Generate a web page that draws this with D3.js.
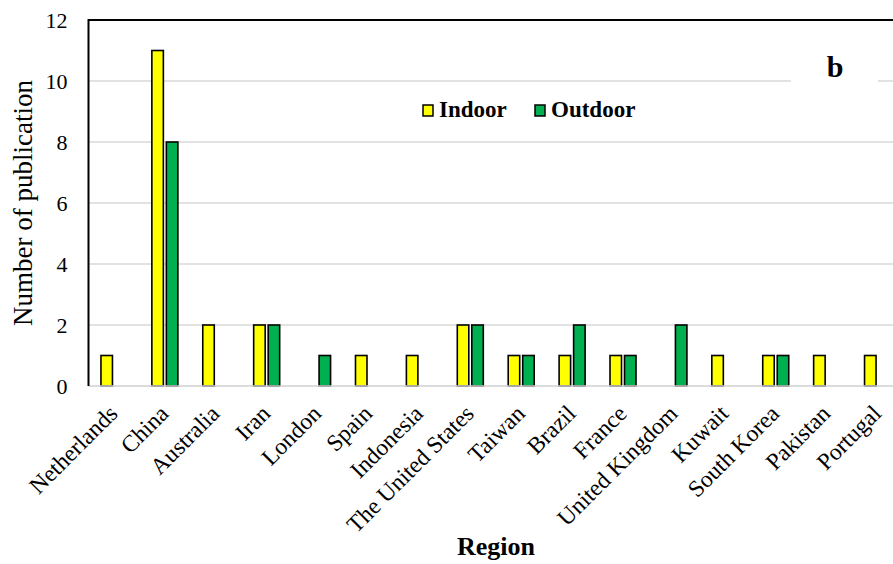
<!DOCTYPE html>
<html><head><meta charset="utf-8">
<script src="https://cdn.jsdelivr.net/npm/d3@7/dist/d3.min.js"></script>
<style>body{margin:0;background:#fff}svg{display:block}</style>
</head><body>
<svg id="c" width="893" height="564"></svg>
<script>
const categories = ["Netherlands","China","Australia","Iran","London","Spain","Indonesia","The United States","Taiwan","Brazil","France","United Kingdom","Kuwait","South Korea","Pakistan","Portugal"];
const indoor  = [1,11,2,2,0,1,1,2,1,1,1,0,1,1,1,1];
const outdoor = [0,8,0,2,1,0,0,2,1,2,1,2,0,1,0,0];
const seriesNames = ["Indoor","Outdoor"];
const seriesColors = ["#ffff00","#00b050"];
const yTicks = [0,2,4,6,8,10,12];

const FONT = '"Liberation Serif","Times New Roman",Times,"DejaVu Serif",serif';
const svg = d3.select("#c");
const x0 = 88.5, x1 = 903, yTop = 20, yBot = 386;
const x = d3.scaleBand().domain(categories).range([x0, x1]);
const y = d3.scaleLinear().domain([0,12]).range([yBot, yTop]);
const barW = 11.5, gap = 3;

// gridlines
svg.append("g").selectAll("line").data(yTicks.filter(t => t>0 && t<12)).join("line")
  .attr("x1", x0).attr("x2", x1).attr("y1", d=>y(d)).attr("y2", d=>y(d))
  .attr("stroke", "#d9d9d9").attr("stroke-width", 1.5);

// label b background (covers gridline)
svg.append("rect").attr("x", 791).attr("y", 55).attr("width", 87).attr("height", 45).attr("fill", "#fff");
svg.append("text").attr("x", 835).attr("y", 77).attr("text-anchor","middle")
  .style("font-family", FONT).style("font-size", "30px").style("font-weight","bold").text("b");

// bars
const data = categories.map((c,i)=>({c, vals:[indoor[i], outdoor[i]]}));
const g = svg.append("g");
data.forEach(d => {
  d.vals.forEach((v,k) => {
    if (v <= 0) return;
    const cx = x(d.c) + x.bandwidth()/2;
    const left = k===0 ? cx - gap/2 - barW : cx + gap/2;
    g.append("rect").attr("x", left).attr("y", y(v)).attr("width", barW).attr("height", y(0)-y(v))
      .attr("fill", seriesColors[k]).attr("stroke", "#000").attr("stroke-width", 1.6);
  });
});

// axes lines
svg.append("line").attr("x1", x0).attr("x2", x1).attr("y1", yBot).attr("y2", yBot).attr("stroke","#d0d0d0").attr("stroke-width",1.5);
svg.append("line").attr("x1", x0).attr("x2", x1).attr("y1", yTop).attr("y2", yTop).attr("stroke","#000").attr("stroke-width",2);
svg.append("line").attr("x1", x0).attr("x2", x0).attr("y1", yTop-1).attr("y2", yBot).attr("stroke","#000").attr("stroke-width",2);

// y axis
const yAxis = d3.axisLeft(y).tickValues(yTicks).tickSize(0).tickPadding(21);
const ya = svg.append("g").attr("transform", `translate(${x0},0)`).call(yAxis);
ya.select(".domain").remove();
ya.selectAll("text").style("font-size", "22px").attr("fill","#000").style("font-family", FONT);

// x axis labels
const xAxis = d3.axisBottom(x).tickSize(0).tickPadding(0);
const xa = svg.append("g").attr("transform", `translate(0,${yBot})`).call(xAxis);
xa.select(".domain").remove();
xa.selectAll("text").style("font-size", "23.5px").attr("fill","#000").style("font-family", FONT)
  .attr("text-anchor","end").attr("dy", null).attr("y", 0)
  .attr("transform", "translate(5,29) rotate(-45)");

// axis titles
svg.append("text").attr("transform","translate(32,203) rotate(-90)").attr("text-anchor","middle")
  .style("font-family", FONT).style("font-size", "27px").text("Number of publication");
svg.append("text").attr("x", 496).attr("y", 555).attr("text-anchor","middle")
  .style("font-family", FONT).style("font-size", "26px").style("font-weight","bold").text("Region");

// legend
const legX = [423, 535];
seriesNames.forEach((n,k) => {
  svg.append("rect").attr("x", legX[k]).attr("y", 105).attr("width", 10).attr("height", 11)
    .attr("fill", seriesColors[k]).attr("stroke","#000").attr("stroke-width",1.5);
  svg.append("text").attr("x", legX[k]+16).attr("y", 117)
    .style("font-family", FONT).style("font-size", "23px").style("font-weight","bold").text(n);
});
</script>
</body></html>
